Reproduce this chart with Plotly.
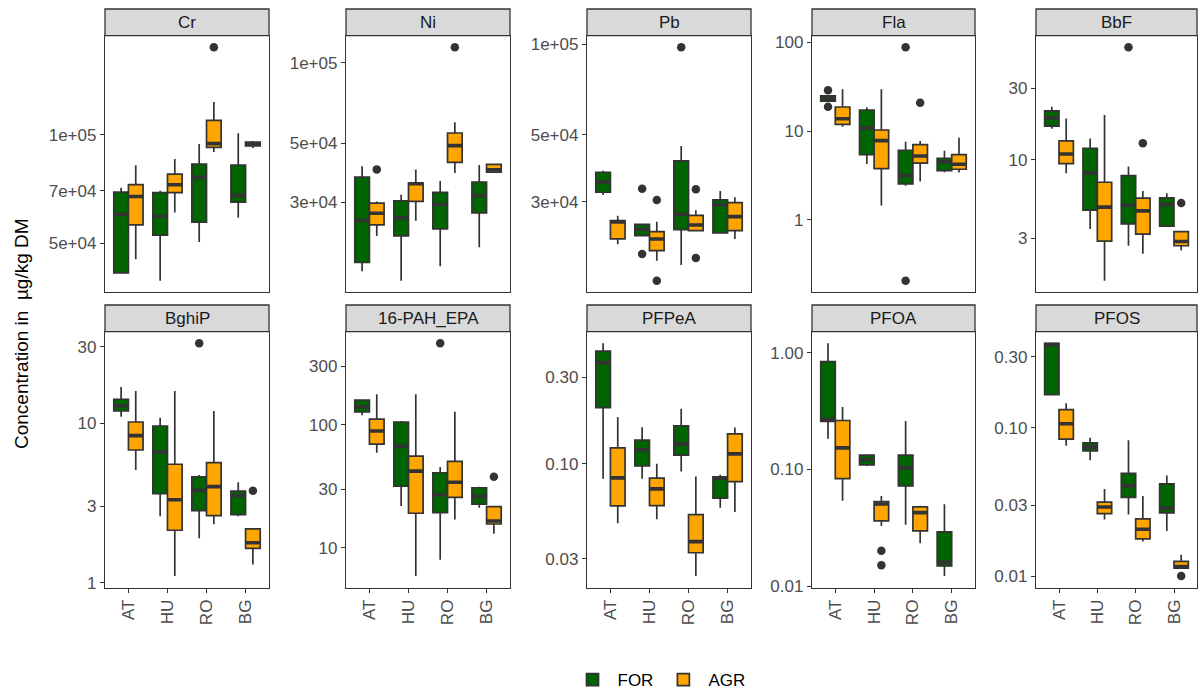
import numpy as np
import plotly.graph_objects as go

W, H = 1200, 693
SITES = ["AT", "HU", "RO", "BG"]
PANELS = ["Cr", "Ni", "Pb", "Fla", "BbF", "BghiP", "16-PAH_EPA", "PFPeA", "PFOA", "PFOS"]

# box statistics per site (AT, HU, RO, BG): (lower whisker, Q1, median, Q3, upper whisker)
Cr_FOR = [(41470, 41470, 60260, 69340, 71300), (39480, 52720, 59500, 69080, 69980),
          (50520, 57270, 76150, 82900, 94190), (58900, 65060, 67900, 82370, 100830)]
Cr_AGR = [(45230, 56330, 67460, 72700, 82220), (60920, 69080, 72700, 77780, 85560),
          (89490, 92220, 94430, 109500, 123100), (91800, 93000, 94190, 95400, 96000)]
Cr_FOR_OUT = [[], [], [], []]
Cr_AGR_OUT = [[], [], [174200], []]

Ni_FOR = [(16520, 17860, 25630, 37270, 40900), (15250, 22440, 26230, 30390, 32010),
          (17250, 23850, 29430, 32650, 36010), (20340, 27390, 31810, 35690, 41350)]
Ni_AGR = [(22440, 24690, 27300, 29770, 30210), (25560, 30210, 35200, 35390, 39850),
          (38600, 42330, 48920, 54560, 59850), (38720, 38930, 39740, 41600, 41850)]
Ni_FOR_OUT = [[], [], [], []]
Ni_AGR_OUT = [[39850], [], [114270], []]

Pb_FOR = [(31580, 32240, 34870, 37570, 38030), (23130, 23130, 24290, 25230, 25230),
          (18490, 24210, 27240, 40960, 45930), (23610, 23610, 29250, 30390, 32550)]
Pb_AGR = [(21650, 22550, 25680, 25940, 26950), (19100, 20620, 22550, 23850, 25740),
          (24030, 24030, 25100, 27030, 28080), (22550, 24030, 26750, 29780, 31020)]
Pb_FOR_OUT = [[], [33140, 20110], [97730], []]
Pb_AGR_OUT = [[], [30390, 16390], [32990, 19500], []]

Fla_FOR = [(21.7, 21.7, 23.2, 24.9, 24.9), (4.27, 5.43, 10.8, 17.3, 18.6),
           (2.43, 2.54, 3.15, 6.09, 7.61), (3.44, 3.59, 4.53, 4.95, 6.03)]
Fla_AGR = [(11.2, 11.9, 13.8, 18.7, 29.6), (1.45, 3.78, 7.81, 10.3, 29.6),
           (2.70, 4.35, 5.25, 7.04, 7.74), (3.41, 3.72, 4.24, 5.43, 8.44)]
Fla_FOR_OUT = [[28.8, 18.8], [], [87.8, 0.207], []]
Fla_AGR_OUT = [[], [], [20.9], []]

BbF_FOR = [(16.1, 16.8, 19.1, 21.2, 22.6), (3.46, 4.63, 8.19, 11.96, 13.9),
           (2.68, 3.75, 4.99, 7.86, 9.03), (3.58, 3.62, 5.04, 5.59, 6.00)]
BbF_AGR = [(8.15, 9.45, 10.96, 13.4, 18.9), (1.57, 2.88, 4.85, 7.10, 19.9),
           (2.37, 3.20, 4.58, 5.56, 6.22), (2.49, 2.68, 2.86, 3.33, 3.33)]
BbF_FOR_OUT = [[], [], [56.2], []]
BbF_AGR_OUT = [[], [], [12.9], [5.17]]

BghiP_FOR = [(10.97, 11.9, 12.85, 14.1, 16.8), (2.61, 3.61, 6.56, 9.59, 10.8),
             (1.90, 2.83, 3.79, 4.61, 4.73), (2.61, 2.67, 3.51, 3.75, 4.26)]
BghiP_AGR = [(5.08, 6.78, 8.34, 10.16, 15.9), (1.10, 2.13, 3.31, 5.52, 15.9),
             (2.32, 2.63, 4.00, 5.65, 11.9), (1.30, 1.64, 1.78, 2.17, 2.17)]
BghiP_FOR_OUT = [[], [], [31.6], []]
BghiP_AGR_OUT = [[], [], [], [3.77]]

PAH_FOR = [(119.7, 127.4, 140.7, 159.5, 159.5), (21.9, 31.8, 66.9, 105.6, 107.6),
           (7.99, 19.3, 27.0, 40.8, 45.4), (21.2, 22.6, 26.2, 30.8, 31.4)]
PAH_AGR = [(59.4, 69.9, 89.2, 111.7, 177.5), (5.88, 19.1, 42.1, 55.8, 177.5),
           (17.0, 25.7, 34.1, 50.5, 128.1), (13.0, 15.6, 16.5, 21.6, 21.6)]
PAH_FOR_OUT = [[], [], [461.8], []]
PAH_AGR_OUT = [[], [], [], [37.9]]

PFPeA_FOR = [(0.0827, 0.204, 0.361, 0.418, 0.461), (0.0827, 0.0975, 0.1195, 0.135, 0.159),
             (0.0907, 0.1117, 0.1284, 0.162, 0.201), (0.0574, 0.0647, 0.0834, 0.0848, 0.087)]
PFPeA_AGR = [(0.0471, 0.0587, 0.0837, 0.1225, 0.181), (0.0495, 0.0589, 0.0728, 0.0834, 0.1),
             (0.0241, 0.0324, 0.0373, 0.0525, 0.0851), (0.0543, 0.0799, 0.1135, 0.1463, 0.1585)]
PFPeA_FOR_OUT = [[], [], [], []]
PFPeA_AGR_OUT = [[], [], [], []]

PFOA_FOR = [(0.1827, 0.2572, 0.2676, 0.837, 1.202), (0.1072, 0.1093, 0.1214, 0.1324, 0.134),
            (0.0336, 0.0722, 0.1036, 0.1324, 0.2593), (0.0122, 0.0149, 0.016, 0.0292, 0.0503)]
PFOA_AGR = [(0.054, 0.0834, 0.153, 0.2624, 0.342), (0.0327, 0.0363, 0.0506, 0.0529, 0.0592),
            (0.0233, 0.0298, 0.0426, 0.0477, 0.0489), None]
PFOA_FOR_OUT = [[], [], [], []]
PFOA_AGR_OUT = [[], [0.0201, 0.0151], [], []]

PFOS_FOR = [(0.1674, 0.1674, 0.3633, 0.3707, 0.3707), (0.0604, 0.0699, 0.074, 0.0791, 0.0855),
            (0.026, 0.0339, 0.0407, 0.0493, 0.0822), (0.0201, 0.0267, 0.0286, 0.0418, 0.0476)]
PFOS_AGR = [(0.0755, 0.0839, 0.1064, 0.1324, 0.1463), (0.0241, 0.0264, 0.0292, 0.0315, 0.0386),
            (0.0171, 0.0178, 0.0207, 0.0243, 0.0346), (0.0113, 0.0113, 0.0116, 0.01256, 0.0139)]
PFOS_FOR_OUT = [[], [], [], []]
PFOS_AGR_OUT = [[], [], [], [0.01]]

# y tick values and labels per panel
Cr_TICKS, Cr_LABELS = [5e4, 7e4, 1e5], ["5e+04", "7e+04", "1e+05"]
Ni_TICKS, Ni_LABELS = [3e4, 5e4, 1e5], ["3e+04", "5e+04", "1e+05"]
Pb_TICKS, Pb_LABELS = [3e4, 5e4, 1e5], ["3e+04", "5e+04", "1e+05"]
Fla_TICKS, Fla_LABELS = [1, 10, 100], ["1", "10", "100"]
BbF_TICKS, BbF_LABELS = [3, 10, 30], ["3", "10", "30"]
BghiP_TICKS, BghiP_LABELS = [1, 3, 10, 30], ["1", "3", "10", "30"]
PAH_TICKS, PAH_LABELS = [10, 30, 100, 300], ["10", "30", "100", "300"]
PFPeA_TICKS, PFPeA_LABELS = [0.03, 0.1, 0.3], ["0.03", "0.10", "0.30"]
PFOA_TICKS, PFOA_LABELS = [0.01, 0.1, 1.0], ["0.01", "0.10", "1.00"]
PFOS_TICKS, PFOS_LABELS = [0.01, 0.03, 0.1, 0.3], ["0.01", "0.03", "0.10", "0.30"]

PANEL_DATA = [
    (Cr_FOR, Cr_AGR, Cr_FOR_OUT, Cr_AGR_OUT, Cr_TICKS, Cr_LABELS),
    (Ni_FOR, Ni_AGR, Ni_FOR_OUT, Ni_AGR_OUT, Ni_TICKS, Ni_LABELS),
    (Pb_FOR, Pb_AGR, Pb_FOR_OUT, Pb_AGR_OUT, Pb_TICKS, Pb_LABELS),
    (Fla_FOR, Fla_AGR, Fla_FOR_OUT, Fla_AGR_OUT, Fla_TICKS, Fla_LABELS),
    (BbF_FOR, BbF_AGR, BbF_FOR_OUT, BbF_AGR_OUT, BbF_TICKS, BbF_LABELS),
    (BghiP_FOR, BghiP_AGR, BghiP_FOR_OUT, BghiP_AGR_OUT, BghiP_TICKS, BghiP_LABELS),
    (PAH_FOR, PAH_AGR, PAH_FOR_OUT, PAH_AGR_OUT, PAH_TICKS, PAH_LABELS),
    (PFPeA_FOR, PFPeA_AGR, PFPeA_FOR_OUT, PFPeA_AGR_OUT, PFPeA_TICKS, PFPeA_LABELS),
    (PFOA_FOR, PFOA_AGR, PFOA_FOR_OUT, PFOA_AGR_OUT, PFOA_TICKS, PFOA_LABELS),
    (PFOS_FOR, PFOS_AGR, PFOS_FOR_OUT, PFOS_AGR_OUT, PFOS_TICKS, PFOS_LABELS),
]

GREEN, ORANGE, DARK = "#006400", "#FFA500", "#333333"
FONT = "Liberation Sans, Arial, sans-serif"
COLS = [(105, 269), (346, 510), (587, 751), (812, 975), (1036, 1197)]
ROWS = [(35.7, 292.3), (331.7, 587.7)]
STRIP_H = 26.7
BOXW = 0.375
DODGE = 0.1875
TICK_FS = 17

fig = go.Figure()
layout = dict(width=W, height=H, margin=dict(l=0, r=0, t=0, b=0, autoexpand=False),
              plot_bgcolor="white", paper_bgcolor="white", showlegend=True,
              font=dict(family=FONT, color="#4D4D4D", size=16))
shapes, annotations = [], []

for k, (name, pdata) in enumerate(zip(PANELS, PANEL_DATA)):
    fstats, astats, fout, aout, tvals, tlabels = pdata
    r, c = divmod(k, 5)
    sfx = "" if k == 0 else str(k + 1)
    xa, ya = "x" + sfx, "y" + sfx
    allvals = []
    for grp, stats, outs, color, off in [("FOR", fstats, fout, GREEN, -DODGE),
                                         ("AGR", astats, aout, ORANGE, DODGE)]:
        xs, lo, q1, me, q3, hi = [], [], [], [], [], []
        for i, s in enumerate(stats):
            if s is None:
                continue
            xs.append(i + 1 + off)
            lo.append(s[0]); q1.append(s[1]); me.append(s[2]); q3.append(s[3]); hi.append(s[4])
            allvals.extend(s)
        fig.add_trace(go.Box(
            x=xs, lowerfence=lo, q1=q1, median=me, q3=q3, upperfence=hi,
            orientation="v", width=BOXW, fillcolor=color,
            line=dict(color=DARK, width=1.7), whiskerwidth=0, boxpoints=False,
            name=grp, legendgroup=grp, showlegend=(k == 0),
            xaxis=xa, yaxis=ya, hoverinfo="skip"))
        mx, my = [], []
        for xi, m in zip(xs, me):
            mx += [xi - BOXW / 2, xi + BOXW / 2, None]
            my += [m, m, None]
        fig.add_trace(go.Scatter(x=mx, y=my, mode="lines", line=dict(color=DARK, width=3.6),
                                 showlegend=False, xaxis=xa, yaxis=ya, hoverinfo="skip"))
        ox, oy = [], []
        for i, vals in enumerate(outs):
            for v in vals:
                ox.append(i + 1 + off); oy.append(v)
                allvals.append(v)
        if ox:
            fig.add_trace(go.Scatter(x=ox, y=oy, mode="markers",
                                     marker=dict(color=DARK, size=8.5, line=dict(width=0)),
                                     showlegend=False, xaxis=xa, yaxis=ya, hoverinfo="skip",
                                     cliponaxis=False))
    lmin, lmax = np.log10(min(allvals)), np.log10(max(allvals))
    pad = 0.05 * (lmax - lmin)
    x0, x1 = COLS[c]
    yt, yb = ROWS[r]
    bottom = (r == 1)
    layout["xaxis" + sfx] = dict(
        domain=[x0 / W, x1 / W], anchor=ya, range=[0.4, 4.6],
        tickvals=[1, 2, 3, 4], ticktext=SITES, showticklabels=bottom,
        ticks="outside" if bottom else "", ticklen=4, tickwidth=1.3, tickcolor=DARK,
        tickangle=-90, tickfont=dict(size=TICK_FS, color="#4D4D4D", family=FONT),
        showline=True, mirror=True, linecolor=DARK, linewidth=1.3,
        showgrid=False, zeroline=False, fixedrange=True)
    layout["yaxis" + sfx] = dict(
        domain=[1 - yb / H, 1 - yt / H], anchor=xa, type="log",
        range=[lmin - pad, lmax + pad], tickvals=tvals, ticktext=tlabels,
        ticks="outside", ticklen=4, tickwidth=1.3, tickcolor=DARK,
        tickfont=dict(size=TICK_FS, color="#4D4D4D", family=FONT),
        showline=True, mirror=True, linecolor=DARK, linewidth=1.3,
        showgrid=False, zeroline=False, fixedrange=True)
    shapes.append(dict(type="rect", xref="paper", yref="paper",
                       x0=x0 / W, x1=x1 / W, y0=1 - yt / H, y1=1 - (yt - STRIP_H) / H,
                       fillcolor="#D9D9D9", line=dict(color=DARK, width=1.3), layer="above"))
    annotations.append(dict(text=name, xref="paper", yref="paper",
                            x=(x0 + x1) / 2 / W, y=1 - (yt - STRIP_H / 2) / H,
                            xanchor="center", yanchor="middle", showarrow=False,
                            font=dict(size=17, color="#1A1A1A", family=FONT)))

annotations.append(dict(text="Concentration in  µg/kg DM", xref="paper", yref="paper",
                        x=21 / W, y=1 - 334 / H, xanchor="center", yanchor="middle",
                        textangle=-90, showarrow=False,
                        font=dict(size=19, color="black", family=FONT)))

layout["shapes"] = shapes
layout["annotations"] = annotations
layout["legend"] = dict(orientation="h", x=659 / W, xanchor="center", y=1 - 680 / H,
                        yanchor="middle", font=dict(size=17, color="black", family=FONT),
                        bgcolor="rgba(0,0,0,0)", itemwidth=40)
fig.update_layout(**layout)
fig.write_html("out.html", config={"displayModeBar": False},
               post_script="document.body.style.margin='0px';document.body.style.overflow='hidden';")
